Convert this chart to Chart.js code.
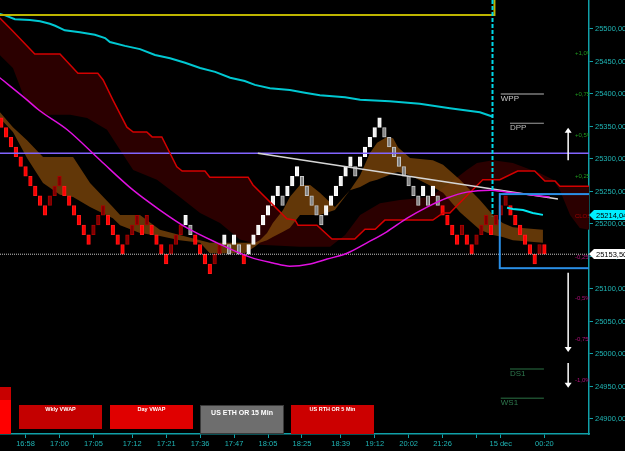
<!DOCTYPE html>
<html>
<head>
<meta charset="utf-8">
<script src="https://cdn.jsdelivr.net/npm/chart.js@4.4.1/dist/chart.umd.min.js"></script>
<style>
  html, body { margin: 0; padding: 0; background: #000; }
  #wrap { position: relative; width: 625px; height: 451px; background: #000; overflow: hidden; }
  #chart { position: absolute; left: 0; top: 0; }
  .blk { position: absolute; left: 0; width: 11px; }
  .btn { position: absolute; top: 405px; color: #fff; font-family: 'Liberation Sans', Arial, sans-serif;
         font-weight: bold; text-align: center; box-sizing: border-box; line-height: 1; padding-top: 2px; }
</style>
</head>
<body>
<div id="wrap">
  <canvas id="chart" width="625" height="451"></canvas>
  <div class="blk" style="top:387px;height:13px;background:#c80000"></div>
  <div class="blk" style="top:400px;height:34px;background:#ff0000"></div>
  <div class="btn" style="left:19px;width:83px;height:24px;background:#c40000;font-size:5.5px">Wkly VWAP</div>
  <div class="btn" style="left:110px;width:83px;height:24px;background:#e00000;font-size:5.5px">Day VWAP</div>
  <div class="btn" style="left:200px;width:84px;height:29px;background:#6e6e6e;border:1px solid #3a3a3a;font-size:7px;padding-top:3px">US ETH OR 15 Min</div>
  <div class="btn" style="left:291px;width:83px;height:29px;background:#cc0000;font-size:5.5px">US RTH OR 5 Min</div>
</div>
<script>
// ---- renko bricks (15 pt box), level 0 starts at 25153.50 ----
const brickSize = 15;
const brickBase = 25153.5;
const brickLevels = [13, 12, 11, 10, 9, 8, 7, 6, 5, 4, 5, 6, 7, 6, 5, 4, 3, 2, 1, 2, 3, 4, 3, 2, 1, 0, 1, 2, 3, 2,
  3, 2, 1, 0, -1, 0, 1, 2, 3, 2, 1, 0, -1, -2, -1, 0, 1, 0, 1, 0, -1, 0, 1, 2, 3, 4, 5, 6, 5, 6,
  7, 8, 7, 6, 5, 4, 3, 4, 5, 6, 7, 8, 9, 8, 9, 10, 11, 12, 13, 12, 11, 10, 9, 8, 7, 6, 5, 6, 5, 6,
  5, 4, 3, 2, 1, 2, 1, 0, 1, 2, 3, 2, 3, 4, 5, 4, 3, 2, 1, 0, -1, 0, 0];
// r = down, d = up in downtrend, w = up, g = down in uptrend
const brickKinds = ['rrrrrrrrrr', 'ddd', 'rrrrrr', 'ddd', 'rrrr', 'ddd', 'r', 'd', 'rrrr', 'ddd', 'w', 'g',
  'rrrr', 'dd', 'w', 'g', 'w', 'g', 'r', 'w', 'wwwwww', 'g', 'www', 'ggggg', 'wwwwww', 'g', 'wwwww',
  'gggggggg', 'w', 'g', 'w', 'g', 'rrrr', 'd', 'rr', 'ddd', 'r', 'ddd', 'rrrrrr', 'd', 'r'].join('').split('');

// ---- axes ----
const timeTickIdx = [5, 12, 19, 27, 34, 41, 48, 55, 62, 70, 77, 84, 91, 98, 103, 112];
const timeLabels = ['16:58', '17:00', '17:05', '17:12', '17:21', '17:36', '17:47', '18:05', '18:25', '18:39',
  '19:12', '20:02', '21:26', '', '15 dec', '00:20'];
const priceTicks = [24900, 24950, 25000, 25050, 25100, 25150, 25200, 25250, 25300, 25350, 25400, 25450, 25500];
const xMin = -0.27, xMax = 121.2;
const yMin = 24876.9, yMax = 25544.6;

// ---- indicator lines (bar index, price) ----
const cyanX = [-0.3, 0.8, 2.8, 5.9, 8, 10, 11.1, 13.1, 16.2, 19.3, 21.4, 22.4, 25.5, 28.6, 31.7, 34.8, 37.9,
  41, 44.1, 47.2, 50.2, 52.3, 55.4, 59.5, 62.6, 65.7, 70.9, 74, 80.1, 86.3, 92.5, 98.7, 101.4];
const cyanY = [25523, 25521, 25515, 25514, 25512, 25508, 25505, 25498, 25495, 25491, 25486, 25480, 25474, 25469,
  25460, 25455, 25448, 25440, 25434, 25425, 25420, 25414, 25409, 25406, 25402, 25398, 25395, 25391, 25389,
  25385, 25378, 25372, 25365];
const cyanNowX = [104.3, 105.5, 107.6, 109.6, 111.7];
const cyanNowY = [25225, 25223, 25221.5, 25217, 25214];

const redX = [-0.3, 2.2, 6.9, 12.1, 15.8, 19.9, 21.0, 23.0, 25.9, 27.2, 30.0, 31.1, 33.1, 36.2, 37.3, 42.0,
  43.0, 50.9, 51.9, 58.9, 60.6, 61.2, 65.1, 68.2, 72.9, 75.0, 77.1, 79.1, 89.0, 91.1, 92.5, 96.6, 99.3,
  102.8, 106.5, 110.0, 112.1, 114.2, 115.2, 121.2];
const redY = [25517, 25498, 25461.5, 25461.5, 25432, 25432, 25421.5, 25391, 25349, 25341.5, 25341.5, 25334,
  25334, 25288, 25281.5, 25281.5, 25272, 25272, 25260, 25208, 25206, 25198, 25198, 25177, 25177, 25192,
  25192, 25206, 25206, 25217, 25217, 25248, 25268, 25268, 25281.5, 25281.5, 25266, 25266, 25258, 25258];
const spanBX = [-0.3, 2.4, 4.9, 8.6, 14.2, 17.7, 21.8, 24.5, 27.2, 32.1, 36.8, 41.0, 45.1, 49.2, 53.3, 61.6,
  67.8, 70.9, 74.0, 78.1, 82.2, 88.4, 92.5, 96.0, 98.1, 101.4, 105.5, 111.1, 113.8, 115.2, 117.3, 119.3, 121.2];
const spanBY = [25460, 25440, 25391, 25368, 25368, 25363, 25345, 25314, 25283, 25268, 25241.5, 25217, 25201.5,
  25176, 25168, 25165, 25165, 25183, 25214, 25232, 25237, 25241.5, 25263, 25283, 25294, 25298, 25294, 25278,
  25268, 25252, 25214, 25194, 25191];

const magX = [-0.3, 5.3, 7.8, 13.6, 20.4, 27.2, 32.7, 38.3, 44.5, 51.3, 56.0, 59.5, 63.7, 67.2, 71.3, 75.4,
  79.5, 83.7, 87.8, 91.9, 96.0, 100.8, 104.3, 109.0, 113.1];
const magY = [25425, 25391, 25375, 25345, 25298, 25252, 25221.5, 25194, 25171, 25149, 25140, 25135, 25138.5,
  25146, 25155, 25171, 25188, 25209, 25226, 25240, 25249, 25252, 25249, 25245, 25241.5];

const brownX = [-0.3, 2.4, 5.3, 8.6, 12.1, 14.8, 18.3, 23.0, 24.5, 28.6, 32.7, 36.8, 41.0, 43.0, 50.2, 52.3,
  53.3, 54.8, 56.0, 58.1, 59.5, 61.6, 63.7, 65.7, 68.8, 71.9, 74.0, 76.0, 77.5, 79.5, 80.8, 81.8, 84.3,
  89.0, 91.1, 94.6, 98.7, 101.4, 103.4, 105.5, 111.7];
const brownTop = [25372, 25349, 25329, 25303, 25303, 25303, 25263, 25226, 25214, 25214, 25191, 25183, 25175,
  25171, 25171, 25171, 25175, 25186, 25201.5, 25221.5, 25241.5, 25260, 25260, 25248, 25226, 25252, 25275,
  25309, 25325, 25334, 25332, 25318, 25301.5, 25298, 25291, 25268, 25237, 25214, 25201.5, 25195, 25191];
const brownBot = [25363, 25341.5, 25301.5, 25263, 25245, 25241.5, 25226, 25209, 25198, 25186, 25181.5, 25175,
  25171, 25155, 25155, 25165, 25171, 25175, 25180, 25188, 25194, 25214, 25214, 25214, 25221.5, 25252, 25257,
  25265, 25268, 25274, 25278, 25280, 25275, 25257, 25248, 25218, 25191, 25183, 25180, 25175, 25171];

const trendX = [52.9, 114.8];
const trendY = [25309, 25238.5];
const purpleLevel = 25309;
const lastPrice = 25153.5;

// ---- annotations ----
const closePrice = 25211;
const pctSteps = [1, 0.75, 0.5, 0.25, 0, -0.25, -0.5, -0.75, -1];
const pctTexts = ['+1,0%', '+0,75%', '+0,5%', '+0,25%', 'CLOSE', '-0,25%', '-0,5%', '-0,75%', '-1,0%'];
const pivotNames = ['WPP', 'DPP', 'DS1', 'WS1'];
const pivotValues = [25400, 25355, 24977, 24932];
const pivotFrom = [103, 104.9, 104.9, 103];
const pivotTo = 111.9;
const arrowFrom = [25298, 25125, 24986];
const arrowTo = [25348, 25003, 24948];
const arrowIdx = 116.9;
const tagValues = [25214.04, 25153.5];

const AXIS = '#10a0a8';
const LABEL = '#1fb5b5';
const kindFill = { r: '#ff0000', d: '#7d0000', w: '#f2f2f2', g: '#858585' };
const kindEdge = { r: '#ff1a1a', d: '#a80000', w: '#ffffff', g: '#c8c8c8' };

Chart.defaults.font.family = "'Liberation Sans', Arial, sans-serif";

const pts = (xs, ys) => xs.map((x, i) => ({ x: x, y: ys[i] }));
const fmt = v => v.toFixed(2).replace('.', ',');

const brickData = brickLevels.map((lv, i) => ({ x: i, y: [brickBase + lv * brickSize, brickBase + (lv + 1) * brickSize] }));

function line(data, color, width, order, extra) {
  return Object.assign({ type: 'line', data: data, borderColor: color, borderWidth: width, pointRadius: 0,
    fill: false, tension: 0, order: order }, extra || {});
}

const overlay = {
  id: 'overlay',
  afterDatasetsDraw(chart) {
    const { ctx, chartArea: a, scales: { x, y } } = chart;
    ctx.save();
    ctx.beginPath();
    ctx.rect(a.left, a.top, a.right - a.left, a.bottom - a.top);
    ctx.clip();

    // yellow range box (top part is off screen)
    ctx.strokeStyle = '#bdb400';
    ctx.lineWidth = 2;
    ctx.beginPath();
    ctx.moveTo(a.left - 5, y.getPixelForValue(25521.5));
    ctx.lineTo(x.getPixelForValue(101.7), y.getPixelForValue(25521.5));
    ctx.lineTo(x.getPixelForValue(101.7), a.top - 5);
    ctx.stroke();

    // session start
    ctx.strokeStyle = '#00d8e8';
    ctx.setLineDash([4, 2]);
    ctx.beginPath();
    ctx.moveTo(x.getPixelForValue(101.3), a.top);
    ctx.lineTo(x.getPixelForValue(101.3), y.getPixelForValue(25212));
    ctx.stroke();
    ctx.setLineDash([]);

    // opening range box
    ctx.strokeStyle = '#2a8fe6';
    const bl = x.getPixelForValue(102.8), bt = y.getPixelForValue(25246), bb = y.getPixelForValue(25132);
    ctx.strokeRect(bl, bt, a.right + 5 - bl, bb - bt);

    // pivots
    const pivotLine = ['#5c5c5c', '#a0a0a0', '#1d4d2e', '#1d4d2e'];
    const pivotText = ['#c8c8c8', '#bdbdbd', '#2f7a4f', '#2f7a4f'];
    const pivotW = [2, 1, 1.5, 1.5];
    ctx.font = "8px 'Liberation Sans', Arial, sans-serif";
    ctx.textBaseline = 'top';
    ctx.textAlign = 'left';
    pivotNames.forEach((n, i) => {
      const py = y.getPixelForValue(pivotValues[i]);
      const px = x.getPixelForValue(pivotFrom[i]);
      ctx.strokeStyle = pivotLine[i];
      ctx.lineWidth = pivotW[i];
      ctx.beginPath();
      ctx.moveTo(px, py);
      ctx.lineTo(x.getPixelForValue(pivotTo), py);
      ctx.stroke();
      ctx.fillStyle = pivotText[i];
      ctx.fillText(n, px, py + 1);
    });

    // range arrows
    ctx.strokeStyle = '#ffffff';
    ctx.fillStyle = '#ffffff';
    ctx.lineWidth = 1.5;
    const ax = x.getPixelForValue(arrowIdx);
    arrowFrom.forEach((f, i) => {
      const y0 = y.getPixelForValue(f), y1 = y.getPixelForValue(arrowTo[i]);
      const dir = y1 < y0 ? -1 : 1;
      ctx.beginPath();
      ctx.moveTo(ax, y0);
      ctx.lineTo(ax, y1 - dir * 4);
      ctx.stroke();
      ctx.beginPath();
      ctx.moveTo(ax, y1);
      ctx.lineTo(ax - 3.5, y1 - dir * 5);
      ctx.lineTo(ax + 3.5, y1 - dir * 5);
      ctx.closePath();
      ctx.fill();
    });

    // percent levels from close
    ctx.font = "6px 'Liberation Sans', Arial, sans-serif";
    ctx.textBaseline = 'middle';
    pctSteps.forEach((p, i) => {
      ctx.fillStyle = p > 0 ? '#1f9a1f' : (p < 0 ? '#b0107a' : '#a00000');
      ctx.fillText(pctTexts[i], x.getPixelForValue(118.3), y.getPixelForValue(closePrice * (1 + p / 100)));
    });
    ctx.restore();
  },
  afterDraw(chart) {
    const { ctx, chartArea: a, scales: { y } } = chart;
    const bg = ['#00eeff', '#ffffff'];
    ctx.save();
    ctx.font = "7.5px 'Liberation Sans', Arial, sans-serif";
    ctx.textBaseline = 'middle';
    ctx.textAlign = 'left';
    tagValues.forEach((v, i) => {
      const ty = Math.round(y.getPixelForValue(v));
      ctx.fillStyle = bg[i];
      ctx.beginPath();
      ctx.moveTo(a.right, ty);
      ctx.lineTo(a.right + 5, ty - 5);
      ctx.lineTo(625, ty - 5);
      ctx.lineTo(625, ty + 5);
      ctx.lineTo(a.right + 5, ty + 5);
      ctx.closePath();
      ctx.fill();
      ctx.fillStyle = '#000';
      ctx.fillText(fmt(v), a.right + 7, ty + 0.5);
    });
    ctx.restore();
  }
};

new Chart(document.getElementById('chart'), {
  type: 'bar',
  data: {
    datasets: [
      line(pts(cyanX, cyanY), '#00c8d2', 2, 1),
      line(pts(cyanNowX, cyanNowY), '#00e6f0', 2, 1),
      line(pts(magX, magY), '#e010e0', 1.5, 1, { cubicInterpolationMode: 'monotone' }),
      line(pts(trendX, trendY), '#d6d6d6', 1.5, 1),
      line(pts(redX, redY), '#d40000', 1.5, 2),
      line([{ x: xMin, y: purpleLevel }, { x: xMax, y: purpleLevel }], '#8264ff', 1.5, 2),
      line([{ x: xMin, y: lastPrice }, { x: xMax, y: lastPrice }], '#c8c8c8', 1, 2, { borderDash: [1, 1] }),
      {
        type: 'bar', data: brickData, order: 3, grouped: false, barThickness: 3.6, borderWidth: 1,
        borderSkipped: false,
        backgroundColor: brickKinds.map(k => kindFill[k]),
        borderColor: brickKinds.map(k => kindEdge[k])
      },
      line(pts(brownX, brownTop), 'rgba(0,0,0,0)', 0, 5,
        { fill: { target: 9, above: 'rgba(125,70,10,0.78)', below: 'rgba(125,70,10,0.78)' } }),
      line(pts(brownX, brownBot), 'rgba(0,0,0,0)', 0, 6),
      line(pts(redX, redY), 'rgba(0,0,0,0)', 0, 7,
        { fill: { target: 11, above: '#2b0000', below: '#2b0000' } }),
      line(pts(spanBX, spanBY), 'rgba(0,0,0,0)', 0, 8)
    ]
  },
  options: {
    responsive: false,
    animation: false,
    devicePixelRatio: 1,
    layout: { padding: 0 },
    plugins: { legend: { display: false }, tooltip: { enabled: false } },
    scales: {
      x: {
        type: 'linear', min: xMin, max: xMax, offset: false,
        grid: { drawOnChartArea: false, drawTicks: true, tickLength: 4, color: AXIS, offset: false },
        border: { display: true, color: AXIS, width: 1.5 },
        ticks: { color: LABEL, font: { size: 7.5 }, padding: 1, autoSkip: false, maxRotation: 0,
          callback: (v, i) => timeLabels[i] },
        afterBuildTicks: s => { s.ticks = timeTickIdx.map(v => ({ value: v })); },
        afterFit: s => { s.height = 17; s.paddingLeft = 0; s.paddingRight = 0; }
      },
      y: {
        position: 'right', min: yMin, max: yMax,
        grid: { drawOnChartArea: false, drawTicks: true, tickLength: 4, color: AXIS },
        border: { display: true, color: AXIS, width: 1.5 },
        ticks: { color: LABEL, font: { size: 7.5 }, padding: 2, callback: v => fmt(v) },
        afterBuildTicks: s => { s.ticks = priceTicks.map(v => ({ value: v })); },
        afterFit: s => { s.width = 36; s.paddingTop = 0; s.paddingBottom = 0; }
      }
    }
  },
  plugins: [overlay]
});
</script>
</body>
</html>
